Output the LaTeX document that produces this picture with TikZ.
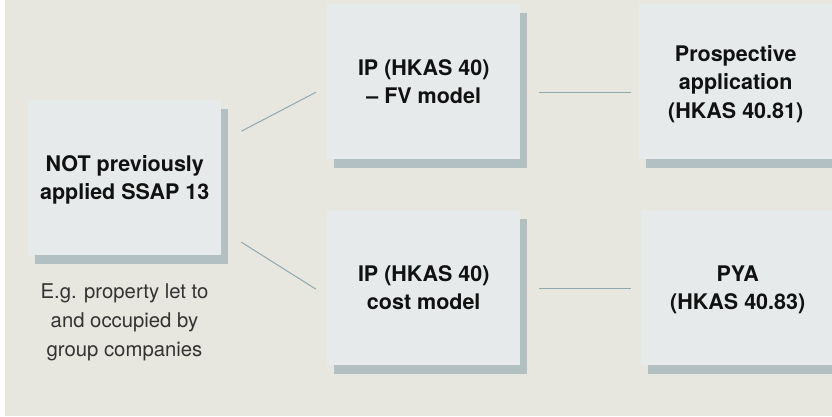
\documentclass[tikz,border=0pt]{standalone}
\usepackage{fontspec}
\setmainfont{TeX Gyre Heros}
\usetikzlibrary{calc,shadows}
\definecolor{bgc}{HTML}{E7E6DF}
\definecolor{facec}{HTML}{E6EAEA}
\definecolor{shadowc}{HTML}{B2C0C4}
\definecolor{linec}{HTML}{90A9B1}
\definecolor{textc}{HTML}{111111}
\definecolor{notec}{HTML}{333333}
\begin{document}
\begin{tikzpicture}[x=1pt,y=-1pt,
  box/.style={fill=facec, minimum width=193pt, minimum height=155pt, inner sep=0pt,
    anchor=north west, align=center, text=textc, text depth=0pt,
    font=\fontsize{21.5}{28.5}\selectfont\bfseries,
    drop shadow={shadow xshift=7pt, shadow yshift=-8.5pt, opacity=1, fill=shadowc}},
  conn/.style={draw=linec, line width=1pt},
  note/.style={align=center, text=notec, inner sep=0pt, font=\fontsize{20.3}{29}\selectfont}]
\useasboundingbox (0,0) rectangle (832,416);
\fill[white] (0,0) rectangle (832,416);
\fill[bgc] (5,0) rectangle (832,416);
\node[box] (L) at (28,100) {NOT previously\\applied SSAP 13};
\node[box] (TM) at (327,4) {IP (HKAS 40)\\– FV model};
\node[box] (TR) at (639,4) {Prospective\\application\\(HKAS 40.81)};
\node[box] (BM) at (327,210) {IP (HKAS 40)\\cost model};
\node[box] (BR) at (641,210) {PYA\\(HKAS 40.83)};
\node[note] (eg) at (124.5,322.8) {E.g. property let to\\and occupied by\\group companies};
\draw[conn] ($(L.east)+(20,-46.5)$) -- ($(TM.west)+(-11,10.5)$);
\draw[conn] ($(L.east)+(20,64.5)$) -- ($(BM.west)+(-11,1.5)$);
\draw[conn] ($(TM.east)+(19,10.5)$) -- ($(TR.west)+(-8,10.5)$);
\draw[conn] ($(BM.east)+(19,1)$) -- ($(BR.west)+(-10,1)$);
\end{tikzpicture}
\end{document}
